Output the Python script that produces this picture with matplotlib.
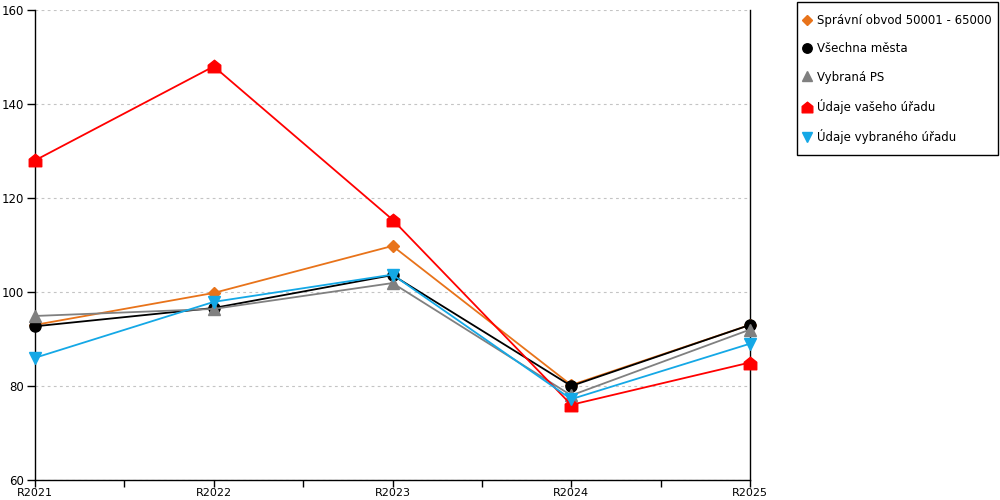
import matplotlib
matplotlib.use("Agg")
import matplotlib.pyplot as plt
from matplotlib.path import Path
from matplotlib.lines import Line2D
from matplotlib.patches import Rectangle

categories = ["R2021", "R2022", "R2023", "R2024", "R2025"]
spravni_obvod = [93.0, 99.8, 109.8, 80.2, 93.0]
vsechna_mesta = [92.7, 96.6, 103.6, 80.0, 93.0]
vybrana_ps = [94.9, 96.4, 101.9, 78.0, 92.0]
udaje_vaseho = [128.0, 148.0, 115.4, 76.0, 85.0]
udaje_vybraneho = [86.0, 97.9, 103.7, 77.2, 89.0]

names = ["Správní obvod 50001 - 65000", "Všechna města", "Vybraná PS",
         "Údaje vašeho úřadu", "Údaje vybraného úřadu"]

house = Path([(-1, -1), (1, -1), (1, 0.2), (0, 1), (-1, 0.2), (-1, -1)],
             [Path.MOVETO, Path.LINETO, Path.LINETO, Path.LINETO, Path.LINETO, Path.CLOSEPOLY])

styles = [
    dict(color="#E8731A", marker="D", ms=6),
    dict(color="#000000", marker="o", ms=8),
    dict(color="#808080", marker="^", ms=8),
    dict(color="#FF0000", marker=house, ms=9),
    dict(color="#14A8E6", marker="v", ms=8),
]
series = [spravni_obvod, vsechna_mesta, vybrana_ps, udaje_vaseho, udaje_vybraneho]

plt.rcParams['font.family'] = ['DejaVu Sans']
fig = plt.figure(figsize=(10, 5), dpi=100)
ax = fig.add_axes([0.035, 0.04, 0.715, 0.94])

x = list(range(len(categories)))
handles = []
for name, vals, st in zip(names, series, styles):
    ax.plot(x, vals, color=st["color"], lw=1.3, marker=st["marker"],
            ms=st["ms"], mec=st["color"], mfc=st["color"], label=name, zorder=3,
            clip_on=False)
    handles.append(Line2D([], [], ls="none", marker=st["marker"], ms=st["ms"] * 0.85,
                          color=st["color"]))

ax.set_xlim(0, 4)
ax.set_ylim(60, 160)
ax.set_yticks([60, 80, 100, 120, 140, 160])
ax.set_xticks(x)
ax.set_xticklabels(categories)
ax.set_xticks([0.5, 1.5, 2.5, 3.5], minor=True)
ax.tick_params(axis="x", which="both", direction="out", length=5, width=1, labelsize=8, pad=0.5)
ax.tick_params(axis="y", direction="out", length=6, width=1, labelsize=8.5, pad=2)
ax.grid(axis="y", color="#c4c4c4", ls=(0, (2.5, 3)), lw=0.8)
ax.set_axisbelow(True)
ax.spines["top"].set_visible(False)
for s in ["left", "right", "bottom"]:
    ax.spines[s].set_color("black")
    ax.spines[s].set_linewidth(1)

leg = fig.legend(handles, names, loc="upper left", bbox_to_anchor=(0.797, 0.984),
                 frameon=False, fontsize=8.5,
                 handlelength=0.7, handletextpad=0.5, labelspacing=1.3,
                 borderpad=0.5, borderaxespad=0)
fig.patches.append(Rectangle((0.7965, 1 - 155 / 500), 0.2015, 153 / 500,
                             transform=fig.transFigure, fill=False,
                             edgecolor="black", lw=1))

fig.savefig("out.png", dpi=100)
